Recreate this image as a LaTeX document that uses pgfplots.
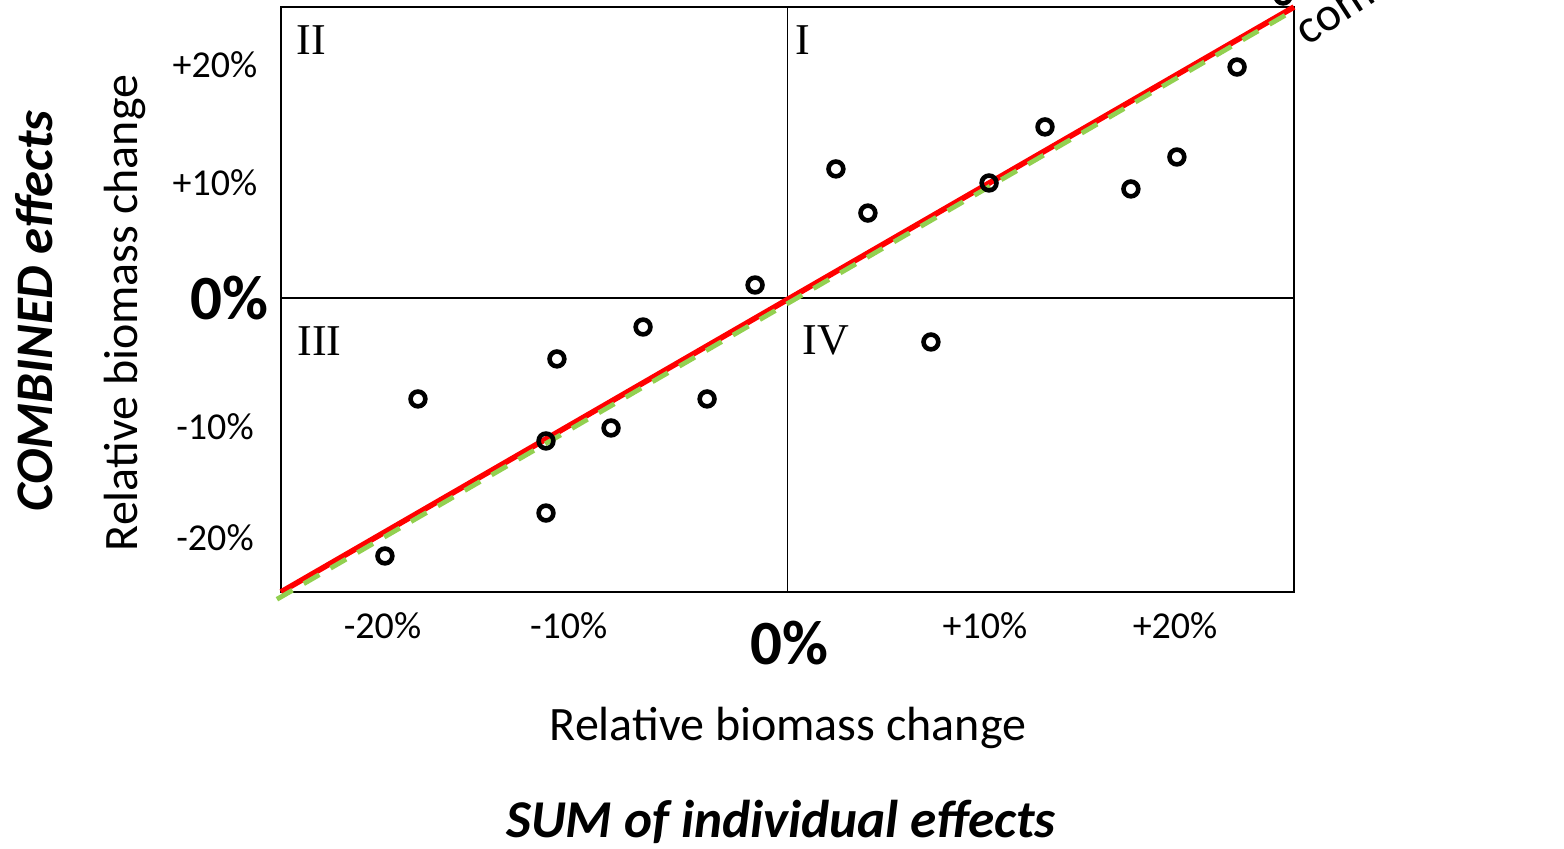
\documentclass[border=0pt]{standalone}
\usepackage{pgfplots}
\pgfplotsset{compat=1.18}
\usepackage{fontspec}
\setmainfont{Carlito}
\newfontfamily\timesfont{Liberation Serif}
\definecolor{xlgreen}{RGB}{146,208,80}
\tikzset{tl/.style={font=\fontsize{19}{19}\selectfont}}
\begin{document}
\begin{tikzpicture}
\begin{axis}[
  at={(140.5pt,128pt)}, anchor=south west,
  scale only axis, width=506.5pt, height=292.5pt,
  xmin=-25, xmax=25, ymin=-25.13, ymax=24.87,
  axis line style={line width=1.2pt},
  xtick=\empty, ytick=\empty,
  clip=false,
]
\draw[line width=0.7pt] (axis cs:0,-25.13) -- (axis cs:0,24.87);
\draw[line width=0.7pt] (axis cs:-25,0) -- (axis cs:25,0);
\addplot[red, line width=2.8pt] coordinates {(-25,-25.13) (25,24.87)};
\addplot[xlgreen, line width=2.4pt, dash pattern=on 9pt off 6.5pt] coordinates {(-25.2,-25.75) (25,24.6)};
\addplot[only marks, mark=o, mark size=3.7pt, mark options={line width=2.3pt, black}] coordinates {
(-1.60,1.11) (2.39,11.03) (3.97,7.26) (9.95,9.83) (12.71,14.62) (16.95,9.32)
(19.22,12.05) (22.19,19.74) (7.08,-3.76) (-7.13,-2.48) (-11.38,-5.21)
(-18.24,-8.63) (-3.97,-8.63) (-8.71,-11.11) (-11.92,-12.22) (-11.92,-18.38)
(-19.87,-22.05) (24.46,25.81)
};
% quadrant labels
\node[font=\timesfont\fontsize{22}{22}\selectfont] at (axis cs:-23.5,22.0) {II};
\node[font=\timesfont\fontsize{22}{22}\selectfont] at (axis cs:0.74,22.0) {I};
\node[font=\timesfont\fontsize{22}{22}\selectfont] at (axis cs:-23.1,-3.7) {III};
\node[font=\timesfont\fontsize{22}{22}\selectfont] at (axis cs:1.9,-3.6) {IV};
% x tick labels
\node[tl, yshift=-17pt] at (axis cs:-19.99,-25.13) {-20\%};
\node[tl, yshift=-17pt] at (axis cs:-10.8,-25.13) {-10\%};
\node[tl, yshift=-17pt] at (axis cs:9.75,-25.13) {+10\%};
\node[tl, yshift=-17pt] at (axis cs:19.13,-25.13) {+20\%};
% y tick labels
\node[tl, xshift=-33pt] at (axis cs:-25,19.91) {+20\%};
\node[tl, xshift=-33pt] at (axis cs:-25,9.83) {+10\%};
\node[tl, xshift=-33pt] at (axis cs:-25,-11.03) {-10\%};
\node[tl, xshift=-33pt] at (axis cs:-25,-20.51) {-20\%};
\node[font=\bfseries\fontsize{31.5}{31.5}\selectfont, yshift=-25.5pt, xshift=1pt] at (axis cs:0,-25.13) {0\%};
\node[font=\bfseries\fontsize{31.5}{31.5}\selectfont, xshift=-26pt] at (axis cs:-25,0) {0\%};
\end{axis}
% axis titles (pixel -> pt: x/2, (848-y)/2)
\node[font=\fontsize{24}{24}\selectfont] at (394pt,60pt) {Relative biomass change};
\node[font=\bfseries\itshape\fontsize{26.6}{26.6}\selectfont] at (390.5pt,13pt) {SUM of individual effects};
\node[font=\fontsize{24}{24}\selectfont, rotate=90] at (62.5pt,267.5pt) {Relative biomass change};
\node[font=\bfseries\itshape\fontsize{26.4}{26.4}\selectfont, rotate=90] at (17pt,268.5pt) {COMBINED effects};
\node[font=\fontsize{24}{24}\selectfont, rotate=33, anchor=base west] at (651pt,399pt) {comb};
\pgfresetboundingbox
\path[use as bounding box] (0,0) rectangle (782pt,424pt);
\end{tikzpicture}
\end{document}
